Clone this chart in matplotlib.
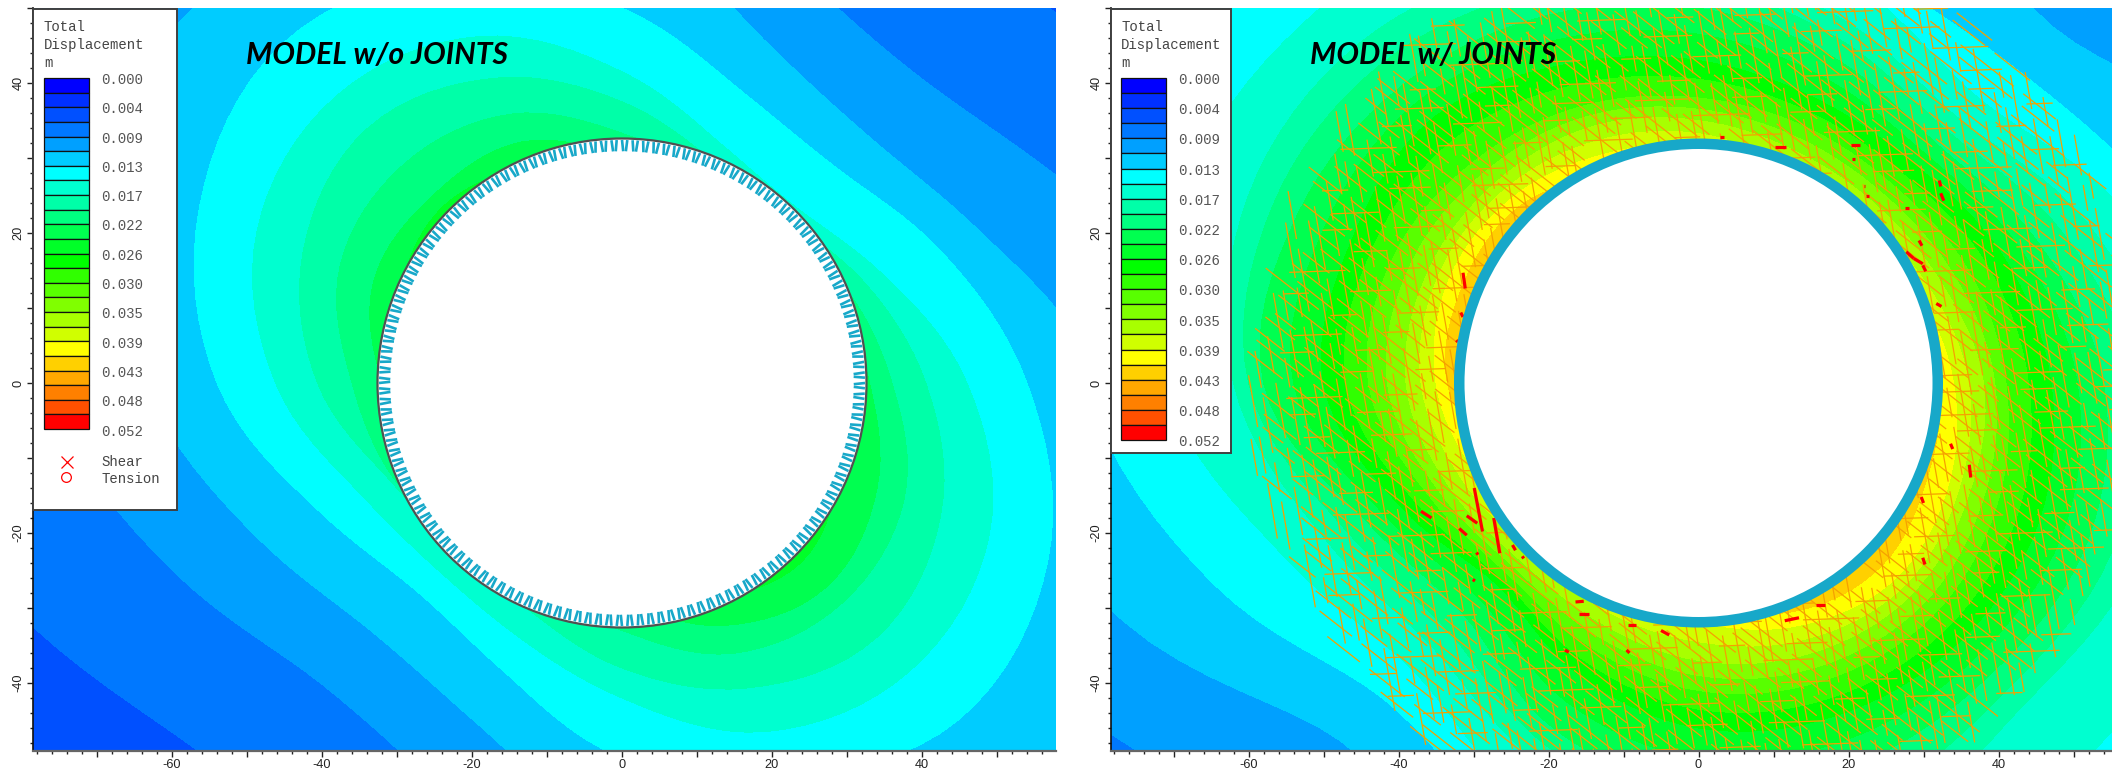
import numpy as np
import matplotlib
matplotlib.use('Agg')
import matplotlib.pyplot as plt
from matplotlib.collections import LineCollection
from matplotlib.colors import ListedColormap, BoundaryNorm
from matplotlib.patches import Circle, Rectangle
from matplotlib.ticker import MultipleLocator, FuncFormatter

# legend scale
band_colors = ['#0000ff', '#0030ff', '#0050ff', '#0078ff', '#00a0ff', '#00ccff',
               '#00ffff', '#00ffd0', '#00ffa8', '#00ff80', '#00ff50', '#00ff28',
               '#00ff00', '#30ff00', '#58ff00', '#80ff00', '#a8ff00', '#d0ff00',
               '#ffff00', '#ffd000', '#ffa800', '#ff8000', '#ff5000', '#ff0000']
legend_labels = ['0.000', '0.004', '0.009', '0.013', '0.017', '0.022', '0.026',
                 '0.030', '0.035', '0.039', '0.043', '0.048', '0.052']
max_disp = 0.052

theta_deg = [0, 22.5, 45, 67.5, 90, 112.5, 135, 157.5, 180, 202.5, 225, 247.5, 270, 292.5, 315, 337.5]

# model w/o joints: band edge index of each row, radius of that contour per direction
left_edges = [2, 3, 4, 5, 6, 7, 8, 9, 10, 11, 12]
left_radii = [
    [140] * 16,
    [105, 85, 75, 78, 95, 110, 115, 112, 105, 85, 74, 80, 95, 110, 115, 112],
    [85, 66, 57, 60, 75, 85, 94, 92, 78, 65, 56.7, 60, 75, 85, 92, 90],
    [64, 52, 46.5, 49.5, 62, 72, 75.5, 76, 64, 53, 47, 49.5, 60, 70, 80, 72],
    [54, 46, 40.5, 42, 50, 59, 64, 61, 54, 44, 39, 41.5, 50, 57, 63.5, 61.5],
    [46, 37.7, 33, 34.5, 41.5, 50, 54, 52.7, 46.2, 38, 35, 36.5, 42, 50.3, 54.3, 53],
    [40.5, 35, 31, 32, 37.5, 44, 48, 46, 40.6, 33.6, 31.5, 32.7, 38, 44, 48, 46],
    [36, 32.4, 29, 30, 33.3, 38.8, 41.2, 40.7, 36, 33, 30, 30, 33, 39, 41.5, 40.7],
    [33, 31, 27, 27, 30, 34.8, 35.5, 35.8, 32, 29, 27, 27, 29, 35, 38.5, 36.8],
    [30, 28, 25, 25, 27, 31, 33.5, 32, 29, 27, 25, 25, 27, 31, 33.8, 31.5],
    [20] * 16,
]

# model w/ joints
right_edges = [3, 4, 5, 6, 7, 8, 10, 12, 14, 16, 18, 19, 21]
right_radii = [
    [160] * 16,
    [115, 98, 84, 92, 110, 125, 130, 130, 120, 98, 84, 92, 110, 125, 130, 125],
    [95, 80, 67, 75, 90, 105, 115, 115, 100, 83, 67.5, 75, 90, 105, 115, 110],
    [78, 66, 59.5, 60, 70, 80, 88, 90, 82, 70, 59.5, 65, 80, 90, 95, 88],
    [68, 61, 53.3, 57, 65, 69, 71, 73, 71, 60, 54, 60, 66, 72, 72, 72],
    [62, 56, 49.5, 52, 56, 60, 64, 65, 62, 54, 50, 55, 60, 64, 61, 63],
    [54, 49, 45, 47, 50, 53, 56, 58, 58, 48, 44, 50, 54, 55, 55, 56],
    [47, 44, 41, 41, 43, 46, 50, 50, 50, 43, 38, 42, 46, 48, 49, 49],
    [41, 39, 37, 37, 38, 40, 42, 44, 44, 39, 36, 38, 41, 43, 44, 43],
    [38, 35, 33.5, 33.5, 35, 37, 38, 39, 39, 36, 33.5, 34.5, 37, 39, 40, 39],
    [34, 31.5, 29, 29, 31.5, 33, 35, 36, 35, 32, 30, 31, 32, 35, 37, 36],
    [32, 29, 27, 27, 29, 30, 33.5, 34, 33.5, 29, 28, 28, 29, 33, 34.5, 33],
    [20] * 16,
]

# yielded joint pieces on the right model
yield_x0 = [2.8, 10.2, 20.3, 20.5, 22.0, 22.3, 27.5, 32.1, 32.3, 29.4, 27.7, 28.7, 29.9, 31.7,
            33.6, 36.1, 29.7, 29.9, 15.7, 11.5, -5.0, -9.4, -9.6,
            -31.4, -31.7, -32.3, -29.9, -30.9, -37.0, -31.9, -27.3, -24.8, -23.5, -29.6, -30.1,
            -16.4, -15.9, -17.8]
yield_y0 = [32.8, 31.4, 31.7, 29.9, 26.3, 24.9, 23.3, 27.0, 25.3, 19.0, 17.5, 16.6, 15.7, 10.6,
            -8.1, -10.9, -15.2, -23.3, -29.6, -31.7, -33.0, -32.2, -35.6,
            14.7, 9.4, 5.7, -14.0, -17.7, -17.1, -19.4, -18.0, -21.6, -23.1, -22.6, -26.2,
            -29.2, -30.8, -35.6]
yield_x1 = [3.4, 11.7, 21.5, 20.8, 22.2, 22.7, 28.1, 32.3, 32.7, 29.8, 28.7, 29.9, 30.3, 32.4,
            33.9, 36.3, 30.0, 30.2, 16.9, 13.4, -3.9, -8.3, -9.2,
            -31.1, -31.4, -32.1, -28.8, -29.5, -35.6, -30.9, -26.5, -24.4, -23.3, -29.4, -29.8,
            -15.3, -14.6, -17.3]
yield_y1 = [32.8, 31.4, 31.7, 29.9, 26.3, 24.9, 23.3, 26.2, 24.3, 18.3, 16.6, 15.9, 14.9, 10.2,
            -8.8, -12.6, -16.0, -24.2, -29.6, -31.3, -33.6, -32.2, -36.0,
            12.6, 8.8, 5.5, -19.8, -18.7, -18.0, -20.3, -22.7, -22.3, -23.4, -22.9, -26.4,
            -29.1, -30.8, -35.9]

# joint sets: dip (deg), spacing across the set, trace lengths and bridge along the set
joint_dip = [-80, -38, 2]
joint_spacing = [1.6, 1.65, 2.7]
joint_bridge = [1.3, 1.6, 5.5]
joint_traces = [[5.0, 7.5, 4.0, 6.5, 8.5, 5.5, 3.5, 7.0],
                [6.0, 4.5, 8.0, 5.0, 7.0, 3.5, 9.0, 5.5],
                [4.0, 6.5, 3.5, 5.5, 7.5, 4.5]]
joint_stagger = [0.0, 0.37, 0.71, 0.19, 0.53, 0.89, 0.11, 0.63, 0.29, 0.81, 0.47, 0.07, 0.93]
joint_wobble = [0.0, 0.3, -0.25, 0.15, -0.35, 0.2, 0.35, -0.1, -0.3, 0.1, 0.25]

PX_W, PX_H = 2112, 772
PX_UNIT = 7.5
TUNNEL_R = 32.6
RING_R = 60.5
BLUE = '#17a8c9'


def panel(left_px, right_px, x0_px):
    # axes placed by pixels so that both panels share one scale
    top_px, bottom_px, y0_px = 8, 751, 383
    ax = fig.add_axes([left_px / PX_W, 1 - bottom_px / PX_H,
                       (right_px - left_px) / PX_W, (bottom_px - top_px) / PX_H])
    ax.set_xlim((left_px - x0_px) / PX_UNIT, (right_px - x0_px) / PX_UNIT)
    ax.set_ylim((y0_px - bottom_px) / PX_UNIT, (y0_px - top_px) / PX_UNIT)
    ax.spines['top'].set_visible(False)
    ax.spines['right'].set_visible(False)
    ax.spines['left'].set_color('#111111')
    ax.spines['left'].set_linewidth(1.2)
    ax.spines['bottom'].set_color('#666666')
    ax.spines['bottom'].set_linewidth(1.6)
    for axis in (ax.xaxis, ax.yaxis):
        axis.set_major_locator(MultipleLocator(10))
        axis.set_minor_locator(MultipleLocator(2))
        axis.set_major_formatter(FuncFormatter(lambda v, p: '%d' % v if round(v) % 20 == 0 else ''))
    ax.tick_params(which='major', length=4.5, width=1, color='#222222', labelsize=9.2,
                   labelcolor='#222222', pad=1.5)
    ax.tick_params(which='minor', length=2.2, width=1, color='#222222')
    for lab in ax.get_yticklabels():
        lab.set_rotation(90)
        lab.set_va('center')
    return ax


def round_off(r, sub=8):
    # the read radii are corners of a polygon, round them like the real contours (Catmull-Rom)
    p0, p1, p2, p3 = np.roll(r, 1, axis=1), r, np.roll(r, -1, axis=1), np.roll(r, -2, axis=1)
    out = []
    for t in np.arange(sub) / sub:
        out.append(0.5 * (2 * p1 + (p2 - p0) * t + (2 * p0 - 5 * p1 + 4 * p2 - p3) * t ** 2
                          + (3 * p1 - p0 - 3 * p2 + p3) * t ** 3))
    fine = np.stack(out, axis=2).reshape(r.shape[0], -1)
    return np.hstack([fine, fine[:, :1]])


def draw_field(ax, edges, radii):
    r = round_off(np.array(radii, dtype=float))
    th = np.radians(np.linspace(0, 360, r.shape[1]))
    x = r * np.cos(th)
    y = r * np.sin(th)
    z = np.tile(np.array(edges)[:, None] * delta, (1, len(th)))
    ax.contourf(x, y, z, levels=band_edges, cmap=cmap, norm=norm, zorder=1)


def joint_segments():
    segs = []
    for dip, sp, br, traces in zip(joint_dip, joint_spacing, joint_bridge, joint_traces):
        d = np.array([np.cos(np.radians(dip)), np.sin(np.radians(dip))])
        n = np.array([-d[1], d[0]])
        for i, off in enumerate(np.arange(-70, 70, sp)):
            off = off + joint_wobble[i % len(joint_wobble)]
            s = -75 + joint_stagger[i % len(joint_stagger)] * 9
            k = i
            while s < 75:
                ln = traces[k % len(traces)]
                a = off * n + s * d
                b = a + ln * d
                # ragged edge: a trace stays only if it lies wholly inside the jointed zone
                if np.hypot(*a) < RING_R and np.hypot(*b) < RING_R and np.hypot(*((a + b) / 2)) > TUNNEL_R - 1:
                    segs.append([a, b])
                s += ln + br
                k += 1
    return segs


def draw_legend(x_box, w_box, h_box, x_sw, y_sw, h_sw, x_lab, y_lab, lab_step):
    ov.add_patch(Rectangle((x_box, 9), w_box, h_box, fc='white', ec='#404040', lw=1.4, zorder=2))
    for t, y in zip(['Total', 'Displacement', 'm'], [27, 45, 63]):
        ov.text(x_sw, y, t, family='Liberation Mono', fontsize=10.1, color='#444444', va='center')
    step = h_sw / len(band_colors)
    for i, c in enumerate(band_colors):
        ov.add_patch(Rectangle((x_sw, y_sw + i * step), 45, step, fc=c, ec='#111111', lw=0.9, zorder=3))
    for i, lab in enumerate(legend_labels):
        ov.text(x_lab, y_lab + i * lab_step, lab, family='Liberation Mono', fontsize=10.1,
                color='#555555', va='center')


plt.rcParams['font.family'] = ['Liberation Sans', 'DejaVu Sans']
fig = plt.figure(figsize=(PX_W / 100, PX_H / 100), dpi=100, facecolor='white')

delta = max_disp / len(band_colors)
band_edges = np.arange(len(band_colors) + 1) * delta
cmap = ListedColormap(band_colors)
norm = BoundaryNorm(band_edges, cmap.N)

# left panel
ax1 = panel(33, 1056, 622)
draw_field(ax1, left_edges, left_radii)
ax1.add_patch(Circle((0, 0), TUNNEL_R, fc='white', ec='#505050', lw=1.6, zorder=3))
bolt_angles = np.radians(np.arange(0, 360, 1.25))
tilt = np.radians(np.resize([-0.3, 0.3], len(bolt_angles)))
bolts = [[(32.4 * np.cos(a), 32.4 * np.sin(a)), (30.9 * np.cos(a + t), 30.9 * np.sin(a + t))]
         for a, t in zip(bolt_angles, tilt)]
ax1.add_collection(LineCollection(bolts, colors=BLUE, linewidths=1.9, zorder=4))

# right panel
ax2 = panel(1111, 2112, 1698.5)
draw_field(ax2, right_edges, right_radii)
ax2.add_collection(LineCollection(joint_segments(), colors='#f5a000', linewidths=0.9, zorder=2))
ax2.add_collection(LineCollection([[(a, b), (c, d)] for a, b, c, d in
                                   zip(yield_x0, yield_y0, yield_x1, yield_y1)],
                                  colors='#ff0000', linewidths=2.3, zorder=3))
ax2.add_patch(Circle((0, 0), TUNNEL_R, fc=BLUE, ec='none', zorder=4))
ax2.add_patch(Circle((0, 0), 31.2, fc='white', ec='none', zorder=5))

# overlay in pixel coordinates for the legends and titles
ov = fig.add_axes([0, 0, 1, 1], facecolor='none')
ov.set_xlim(0, PX_W)
ov.set_ylim(PX_H, 0)
ov.axis('off')

draw_legend(33, 144, 501, 44, 78, 351, 101, 80, 29.3)
ov.plot([66.7], [461.5], marker='x', ms=8.5, mew=0.9, color='#ff0000', zorder=3)
ov.plot([65.7], [476.5], marker='o', ms=7, mew=0.9, mfc='none', color='#ff0000', zorder=3)
ov.text(101, 462, 'Shear', family='Liberation Mono', fontsize=10.1, color='#444444', va='center')
ov.text(101, 479, 'Tension', family='Liberation Mono', fontsize=10.1, color='#444444', va='center')

draw_legend(1111, 120, 444, 1121, 78, 362, 1178, 80, 30.2)

ov.text(376.5, 54.5, 'MODEL w/o JOINTS', family='Lato', weight='bold', style='italic',
        fontsize=21.6, color='black', ha='center', va='center', zorder=6)
ov.text(1433, 54.5, 'MODEL w/ JOINTS', family='Lato', weight='bold', style='italic',
        fontsize=21.6, color='black', ha='center', va='center', zorder=6)

fig.savefig('out.png', dpi=100)
